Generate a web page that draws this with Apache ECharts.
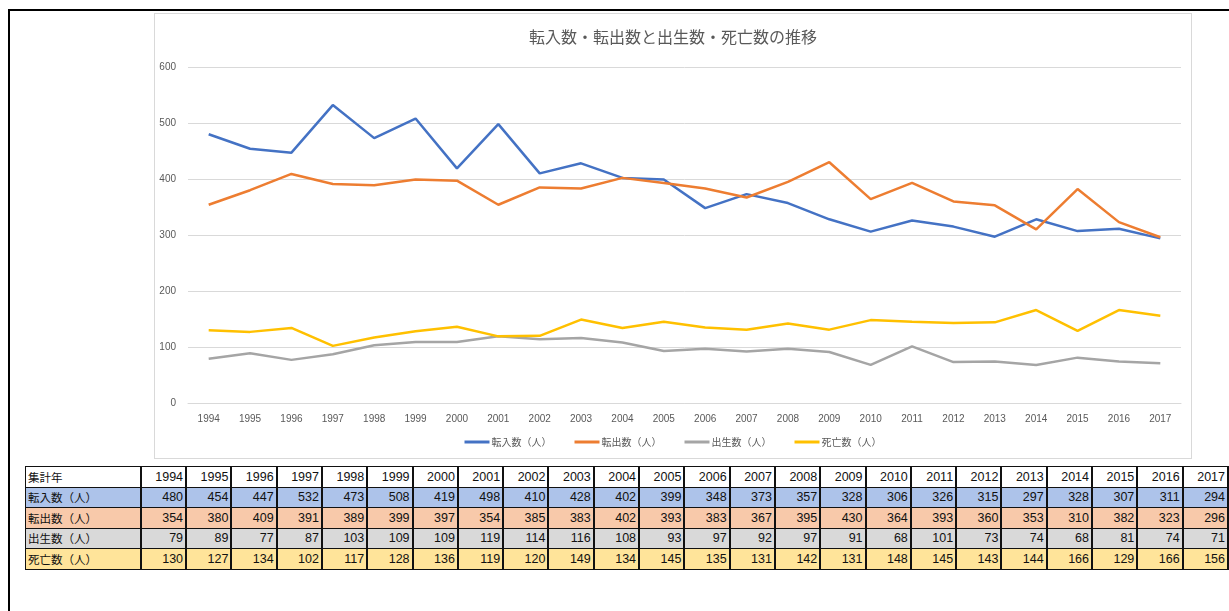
<!DOCTYPE html>
<html><head><meta charset="utf-8">
<script src="https://cdn.jsdelivr.net/npm/echarts@6/dist/echarts.min.js"></script>
<style>
html,body{margin:0;padding:0;background:#fff;width:1229px;height:611px;overflow:hidden;position:relative;font-family:"Liberation Sans","Noto Sans CJK JP",sans-serif;}
#frame{position:absolute;left:8px;top:9px;width:1400px;height:800px;border:2px solid #000;box-sizing:border-box;}
#chart{position:absolute;left:154px;top:13px;width:1038px;height:446px;border:1px solid #d9d9d9;box-sizing:border-box;background:#fff;}
#tbl{position:absolute;left:25px;top:466px;border-collapse:collapse;table-layout:fixed;font-size:12.5px;color:#111;}
#tbl td{border:1px solid #111;border-right:2px solid #111;height:20.5px;padding:0 2px;text-align:right;white-space:nowrap;overflow:hidden;box-sizing:border-box;line-height:18px;}
#tbl td.lab{text-align:left;font-family:"Noto Sans CJK JP",sans-serif;font-size:11.5px;}
</style></head>
<body>
<div id="frame"></div>
<div id="chart"></div>
<table id="tbl"></table>
<script>
const years = ["1994","1995","1996","1997","1998","1999","2000","2001","2002","2003","2004","2005","2006","2007","2008","2009","2010","2011","2012","2013","2014","2015","2016","2017"];
const tennyu = [480,454,447,532,473,508,419,498,410,428,402,399,348,373,357,328,306,326,315,297,328,307,311,294];
const tenshutsu = [354,380,409,391,389,399,397,354,385,383,402,393,383,367,395,430,364,393,360,353,310,382,323,296];
const shussei = [79,89,77,87,103,109,109,119,114,116,108,93,97,92,97,91,68,101,73,74,68,81,74,71];
const shibou = [130,127,134,102,117,128,136,119,120,149,134,145,135,131,142,131,148,145,143,144,166,129,166,156];
const seriesNames = ["転入数（人）","転出数（人）","出生数（人）","死亡数（人）"];
const headerLabel = "集計年";
const titleText = "転入数・転出数と出生数・死亡数の推移";

const colors = ["#4472c4","#ed7d31","#a5a5a5","#ffc000"];
const rowBg = ["#adc3ea","#f8c9aa","#d9d9d9","#ffe49a"];
const allData = [tennyu, tenshutsu, shussei, shibou];

const chart = echarts.init(document.getElementById('chart'), null, {renderer:'canvas'});
chart.setOption({
  animation:false,
  title:{text:titleText,left:'center',top:10,textStyle:{fontSize:16,fontWeight:'normal',color:'#595959',fontFamily:'"Noto Sans CJK JP",sans-serif'}},
  legend:{data:seriesNames,left:'center',top:418,icon:'rect',itemWidth:25,itemHeight:3,itemGap:23,
    textStyle:{fontSize:10,color:'#595959',fontFamily:'"Noto Sans CJK JP",sans-serif',padding:[0,0,0,-3]}},
  grid:{left:33,right:10,top:53,bottom:55},
  xAxis:{type:'category',data:years,boundaryGap:true,
    axisLine:{show:true,lineStyle:{color:'#d9d9d9'}},axisTick:{show:false},
    axisLabel:{fontSize:10,color:'#595959',margin:11,interval:0,fontFamily:'"Liberation Sans",sans-serif'}},
  yAxis:{type:'value',min:0,max:600,interval:100,
    axisLine:{show:false},axisTick:{show:false},
    splitLine:{lineStyle:{color:'#d9d9d9',width:1}},
    axisLabel:{fontSize:10,color:'#595959',margin:12,fontFamily:'"Liberation Sans",sans-serif'}},
  series: allData.map((d,i)=>({name:seriesNames[i],type:'line',data:d,showSymbol:false,symbol:'none',
    lineStyle:{width:2.5,color:colors[i]},itemStyle:{color:colors[i]}}))
});

// table
const tbl = document.getElementById('tbl');
const cg = document.createElement('colgroup');
const c0 = document.createElement('col'); c0.style.width='116px'; cg.appendChild(c0);
years.forEach(()=>{const c=document.createElement('col'); c.style.width='45.5px'; cg.appendChild(c);});
tbl.appendChild(cg);
function addRow(label, vals, bg){
  const tr=document.createElement('tr');
  const td0=document.createElement('td'); td0.className='lab'; td0.textContent=label; td0.style.background=bg; tr.appendChild(td0);
  vals.forEach(v=>{const td=document.createElement('td'); td.textContent=v; td.style.background=bg; tr.appendChild(td);});
  tbl.appendChild(tr);
}
addRow(headerLabel, years, '#ffffff');
allData.forEach((d,i)=>addRow(seriesNames[i], d, rowBg[i]));
</script>
</body></html>
